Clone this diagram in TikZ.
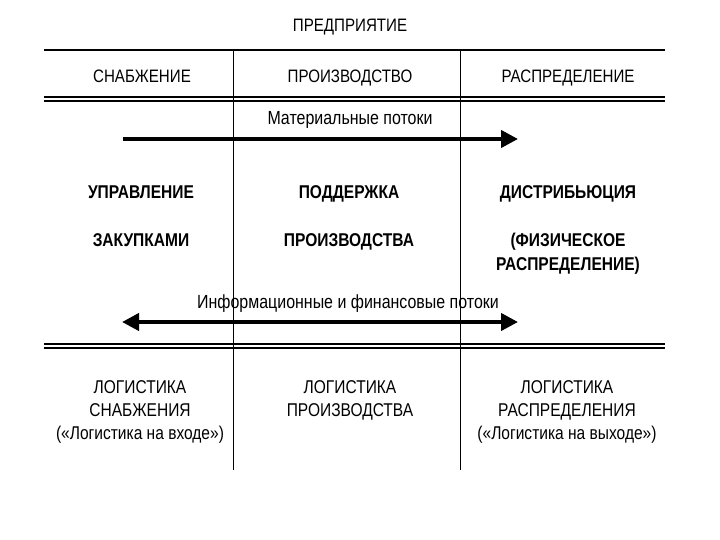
\documentclass[tikz,border=0pt]{standalone}
\usepackage{fontspec}
\setmainfont[FakeStretch=0.84]{Liberation Sans}
\usetikzlibrary{arrows.meta}

\tikzset{
  headtxt/.style={font=\fontsize{18}{20}\selectfont, inner sep=0pt, anchor=base},
  boldtxt/.style={font=\fontsize{18.5}{20}\selectfont\bfseries, inner sep=0pt, anchor=base},
  flowtxt/.style={font=\fontsize{19}{20}\selectfont, inner sep=0pt, anchor=base},
  logtxt/.style={font=\fontsize{18.5}{20}\selectfont, inner sep=0pt, anchor=base},
  flowarrow/.style={line width=4pt, -{Triangle[length=17pt,width=17pt]}},
  rule/.style={line width=1.4pt},
}

\begin{document}
\begin{tikzpicture}[x=1pt, y=-1pt]
    \useasboundingbox (0,0) rectangle (720,540);

    % frame lines
    \draw[rule] (44,50) -- (665,50);
    \draw[line width=0.9pt] (233,50) -- (233,470);
    \draw[line width=0.9pt] (460,50) -- (460,470);
    \draw[rule] (44,97) -- (665,97);
    \draw[rule] (44,101) -- (665,101);
    \draw[rule] (44,344) -- (665,344);
    \draw[rule] (44,348) -- (665,348);

    % headers
    \node[headtxt] (firm) at (350,32) {ПРЕДПРИЯТИЕ};
    \node[headtxt] (supply) at (142,83) {СНАБЖЕНИЕ};
    \node[headtxt] (prod) at (350,83) {ПРОИЗВОДСТВО};
    \node[headtxt] (distr) at (568,83) {РАСПРЕДЕЛЕНИЕ};

    % material flow
    \coordinate (mleft) at (123,139);
    \coordinate (mright) at (518,139);
    \draw[flowarrow] (mleft) -- (mright);
    \node[flowtxt] (mflow) at (350,125) {Материальные потоки};

    % functions
    \node[boldtxt] (ctrl1) at (141,199) {УПРАВЛЕНИЕ};
    \node[boldtxt] (ctrl2) at (141,246) {ЗАКУПКАМИ};
    \node[boldtxt] (supp1) at (349,199) {ПОДДЕРЖКА};
    \node[boldtxt] (supp2) at (349,246) {ПРОИЗВОДСТВА};
    \node[boldtxt] (dist1) at (568,199) {ДИСТРИБЬЮЦИЯ};
    \node[boldtxt] (dist2) at (568,246) {(ФИЗИЧЕСКОЕ};
    \node[boldtxt] (dist3) at (568,270) {РАСПРЕДЕЛЕНИЕ)};

    % information flow
    \coordinate (ileft) at (122,322);
    \coordinate (iright) at (518,322);
    \draw[flowarrow, {Triangle[length=17pt,width=17pt]}-{Triangle[length=17pt,width=17pt]}] (ileft) -- (iright);
    \node[flowtxt] (iflow) at (348,308) {Информационные и финансовые потоки};

    % logistics
    \node[logtxt] (log1a) at (140,393) {ЛОГИСТИКА};
    \node[logtxt] (log1b) at (140,416) {СНАБЖЕНИЯ};
    \node[logtxt] (log1c) at (140,439) {(«Логистика на входе»)};
    \node[logtxt] (log2a) at (350,393) {ЛОГИСТИКА};
    \node[logtxt] (log2b) at (350,416) {ПРОИЗВОДСТВА};
    \node[logtxt] (log3a) at (567,393) {ЛОГИСТИКА};
    \node[logtxt] (log3b) at (567,416) {РАСПРЕДЕЛЕНИЯ};
    \node[logtxt] (log3c) at (567,439) {(«Логистика на выходе»)};
\end{tikzpicture}
\end{document}
